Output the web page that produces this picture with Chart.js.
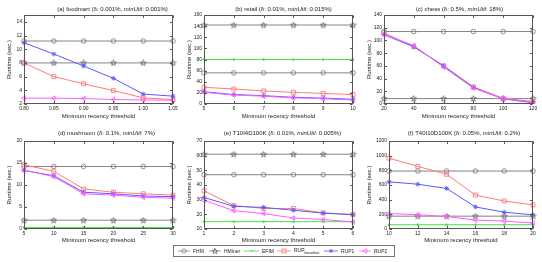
<!DOCTYPE html>
<html>
<head>
<meta charset="utf-8">
<script src="https://cdn.jsdelivr.net/npm/chart.js@4.4.1/dist/chart.umd.min.js"></script>
<style>
  body { margin: 0; background: #fff; width: 542px; height: 262px; overflow: hidden; position: relative;
         font-family: 'Liberation Sans', Arial, sans-serif; }
  canvas { position: absolute; }
  #legend { position: absolute; left: 173px; top: 245px; width: 220px; height: 10px; border: 1px solid #777;
            font-size: 5px; color: #222; }
  #legend .it { position: absolute; top: 0; height: 10px; display: flex; align-items: center; white-space: nowrap; }
  #legend svg { margin-right: 3px; }
  #legend sub { font-size: 4px; vertical-align: -1.5px; }
</style>
</head>
<body>
<canvas id="pa" width="180" height="122" style="left:0;top:0"></canvas>
<canvas id="pb" width="180" height="122" style="left:180px;top:0"></canvas>
<canvas id="pc" width="182" height="122" style="left:360px;top:0"></canvas>
<canvas id="pd" width="180" height="124" style="left:0;top:122px"></canvas>
<canvas id="pe" width="180" height="124" style="left:180px;top:122px"></canvas>
<canvas id="pf" width="182" height="124" style="left:360px;top:122px"></canvas>
<div id="legend"></div>
<script>
// series order: FHM, HMiner, EFIM, RUP_baseline, RUP1, RUP2
const seriesNames = ['FHM', 'HMiner', 'EFIM', 'RUP_baseline', 'RUP1', 'RUP2'];

// (a) foodmart
const xA = ['0.80', '0.85', '0.90', '0.95', '1.00', '1.05'];
const fhmA = [11.2, 11.2, 11.2, 11.2, 11.2, 11.2];
const hminerA = [8, 8, 8, 8, 8, 8];
const efimA = [2.02, 2.02, 2.02, 2.02, 2.02, 2.02];
const rupBaseA = [8, 6, 4.95, 3.95, 2.9, 2.65];
const rup1A = [10.95, 9.3, 7.55, 5.75, 3.45, 3.15];
const rup2A = [2.85, 2.85, 2.8, 2.65, 2.6, 2.55];

// (b) retail
const xB = ['5', '6', '7', '8', '9', '10'];
const fhmB = [56, 56, 56, 56, 56, 56];
const hminerB = [142, 142, 142, 142, 142, 142];
const efimB = [80, 80, 80, 80, 80, 80];
const rupBaseB = [30, 27, 23.5, 21, 19, 17];
const rup1B = [22, 17, 15, 12, 10.5, 8.5];
const rup2B = [21, 16, 14, 11, 9.5, 7];

// (c) chess
const xC = ['20', '40', '60', '80', '100', '120'];
const fhmC = [114, 114, 114, 114, 114, 114];
const hminerC = [8.5, 8.5, 8.5, 8.5, 8.5, 8.5];
const efimC = [0.5, 0.5, 0.5, 0.5, 0.5, 0.5];
const rupBaseC = [112, 90, 60, 27, 9, 4];
const rup1C = [109, 90, 60, 26, 8, 2];
const rup2C = [110, 92, 58, 25, 8.5, 3];

// (d) mushroom
const xD = ['5', '10', '15', '20', '25', '30'];
const fhmD = [14.2, 14.2, 14.2, 14.2, 14.2, 14.2];
const hminerD = [2, 2, 2, 2, 2, 2];
const efimD = [0.35, 0.35, 0.35, 0.35, 0.35, 0.35];
const rupBaseD = [14.6, 13.1, 9.1, 8.35, 8.0, 7.7];
const rup1D = [13.3, 12.1, 8.35, 8.0, 7.5, 7.35];
const rup2D = [13.4, 11.9, 8.0, 7.7, 7.2, 7.0];

// (e) T10I4D100K
const xE = ['1', '2', '3', '4', '5', '6'];
const fhmE = [47, 47, 47, 47, 47, 47];
const hminerE = [61, 61, 61, 61, 61, 61];
const efimE = [15, 15, 15, 15, 15, 15];
const rupBaseE = [36, 26, 24, 24, 21, 20];
const rup1E = [31.5, 25.5, 24.7, 22.8, 20.8, 19.7];
const rup2E = [29.5, 22.5, 20.5, 17.5, 16.5, 14.8];

// (f) T40I10D100K
const xF = ['10', '12', '14', '16', '18', '20'];
const fhmF = [790, 790, 790, 790, 790, 790];
const hminerF = [175, 175, 175, 175, 175, 175];
const efimF = [58, 58, 58, 58, 58, 58];
const rupBaseF = [966, 854, 746, 463, 382, 328];
const rup1F = [643, 611, 553, 301, 229, 193];
const rup2F = [211, 195, 171, 121, 108, 81];

// y axis ranges [min, max, step]
const yRanges = [[2, 15, 2], [0, 160, 20], [0, 140, 20], [0, 20, 5], [10, 70, 10], [0, 1200, 200]];

const panelTitles = [
  '(a) foodmart (δ: 0.001%, minUtil: 0.001%)',
  '(b) retail (δ: 0.01%, minUtil: 0.015%)',
  '(c) chess (δ: 0.5%, minUtil: 18%)',
  '(d) mushroom (δ: 0.1%, minUtil: 7%)',
  '(e) T10I4D100K (δ: 0.01%, minUtil: 0.005%)',
  '(f) T40I10D100K (δ: 0.05%, minUtil: 0.2%)'
];

const FONT = "'Liberation Sans', Arial, sans-serif";
Chart.defaults.font.family = FONT;
Chart.defaults.color = '#222';

function pentagram(color) {
  const c = document.createElement('canvas');
  c.width = c.height = 7;
  const g = c.getContext('2d');
  g.strokeStyle = color;
  g.lineWidth = 0.8;
  g.beginPath();
  for (let k = 0; k < 10; k++) {
    const r = k % 2 ? 1.2 : 3, a = -Math.PI / 2 + k * Math.PI / 5;
    const px = 3.5 + r * Math.cos(a), py = 3.7 + r * Math.sin(a);
    k ? g.lineTo(px, py) : g.moveTo(px, py);
  }
  g.closePath();
  g.stroke();
  return c;
}

const styles = [
  { color: '#858585', point: 'circle', r: 2.3, fill: 'rgba(0,0,0,0)' },
  { color: '#858585', point: pentagram('#555'), r: 3, fill: 'rgba(0,0,0,0)' },
  { color: '#44e044', point: 'circle', r: 0.9, fill: '#44e044' },
  { color: '#ff7b7b', point: 'rect', r: 2.8, fill: 'rgba(0,0,0,0)' },
  { color: '#5a5aff', point: 'star', r: 2.4, fill: '#5a5aff' },
  { color: '#ff5cff', point: 'triangle', r: 2.6, fill: 'rgba(0,0,0,0)', rot: -90 }
];

// box with inward ticks, MATLAB style
const boxPlugin = {
  id: 'box',
  afterDraw(chart) {
    const { ctx, chartArea: a, scales: { x, y } } = chart;
    const L = Math.round(a.left) + 0.5, R = Math.round(a.right) - 0.5;
    const T = Math.round(a.top) + 0.5, B = Math.round(a.bottom) - 0.5;
    ctx.save();
    ctx.strokeStyle = '#555';
    ctx.lineWidth = 1;
    ctx.strokeRect(L, T, R - L, B - T);
    ctx.beginPath();
    x.ticks.forEach((t, i) => {
      const px = Math.round(x.getPixelForTick(i)) + 0.5;
      ctx.moveTo(px, B); ctx.lineTo(px, B - 2.5);
      ctx.moveTo(px, T); ctx.lineTo(px, T + 2.5);
    });
    y.ticks.forEach((t, i) => {
      const py = Math.round(y.getPixelForTick(i)) + 0.5;
      ctx.moveTo(L, py); ctx.lineTo(L + 2.5, py);
      ctx.moveTo(R, py); ctx.lineTo(R - 2.5, py);
    });
    ctx.stroke();
    ctx.restore();
  }
};

// title with italic minUtil
const titlePlugin = {
  id: 'ptitle',
  afterDraw(chart, args, o) {
    const { ctx, chartArea: a } = chart;
    const [head, tail] = o.text.split('minUtil');
    const parts = [[head, 'normal'], ['minUtil', 'italic'], [tail, 'normal']];
    ctx.save();
    ctx.fillStyle = '#222';
    ctx.textBaseline = 'middle';
    let w = 0;
    parts.forEach(p => { ctx.font = p[1] + ' 6px ' + FONT; w += ctx.measureText(p[0]).width; });
    let cx = (a.left + a.right) / 2 + o.dx - w / 2;
    parts.forEach(p => {
      ctx.font = p[1] + ' 6px ' + FONT;
      ctx.fillText(p[0], cx, o.y);
      cx += ctx.measureText(p[0]).width;
    });
    ctx.restore();
  }
};

const panels = [
  { id: 'pa', w: 180, h: 122, l: 24, t: 15, r: 173, b: 104, ty: 9, dx: 14, xp: 1.7 },
  { id: 'pb', w: 180, h: 122, l: 24, t: 15, r: 173, b: 104, ty: 9, dx: 5, xp: 1.7 },
  { id: 'pc', w: 182, h: 122, l: 24, t: 15, r: 173, b: 104, ty: 9, dx: 1, xp: 1.7 },
  { id: 'pd', w: 180, h: 124, l: 24, t: 19, r: 173, b: 107, ty: 11.3, dx: 8, xp: 1.9 },
  { id: 'pe', w: 180, h: 124, l: 24, t: 19, r: 173, b: 107, ty: 11.3, dx: 4, xp: 1.9 },
  { id: 'pf', w: 182, h: 124, l: 29, t: 19, r: 173, b: 107, ty: 11.3, dx: 3, xp: 1.9 }
];

const panelData = [
  [xA, [fhmA, hminerA, efimA, rupBaseA, rup1A, rup2A]],
  [xB, [fhmB, hminerB, efimB, rupBaseB, rup1B, rup2B]],
  [xC, [fhmC, hminerC, efimC, rupBaseC, rup1C, rup2C]],
  [xD, [fhmD, hminerD, efimD, rupBaseD, rup1D, rup2D]],
  [xE, [fhmE, hminerE, efimE, rupBaseE, rup1E, rup2E]],
  [xF, [fhmF, hminerF, efimF, rupBaseF, rup1F, rup2F]]
];

panels.forEach((p, k) => {
  const [labels, series] = panelData[k];
  const [ymin, ymax, ystep] = yRanges[k];
  const datasets = series.map((vals, i) => ({
    label: seriesNames[i],
    data: vals,
    borderColor: styles[i].color,
    backgroundColor: styles[i].fill,
    borderWidth: 1,
    pointStyle: styles[i].point,
    pointRadius: styles[i].r,
    pointRotation: styles[i].rot || 0,
    pointBorderColor: i === 1 ? '#555' : styles[i].color,
    pointBorderWidth: 0.9,
    pointBackgroundColor: styles[i].fill,
    tension: 0,
    order: 6 - i
  }));
  new Chart(document.getElementById(p.id), {
    type: 'line',
    data: { labels, datasets },
    plugins: [boxPlugin, titlePlugin],
    options: {
      responsive: false,
      animation: false,
      layout: { padding: { left: 0, right: p.w - p.r, top: p.t, bottom: 0 } },
      plugins: {
        legend: { display: false },
        tooltip: { enabled: false },
        ptitle: { text: panelTitles[k], dx: p.dx, y: p.ty }
      },
      scales: {
        x: {
          offset: false,
          grid: { display: false, drawTicks: false },
          border: { display: false },
          ticks: { padding: 1.5, autoSkip: false, maxRotation: 0, font: { size: 5 } },
          title: { display: true, text: 'Minimum recency threshold', font: { size: 6 }, padding: { top: 0, bottom: p.xp } },
          afterFit(s) { s.height = p.h - p.b; }
        },
        y: {
          min: ymin, max: ymax,
          grid: { display: false, drawTicks: false },
          border: { display: false },
          ticks: { stepSize: ystep, includeBounds: false, padding: 2, font: { size: 5 }, callback: v => String(v) },
          title: { display: true, text: 'Runtime (sec.)', font: { size: 6 }, padding: { top: 5.9, bottom: 0 } },
          afterFit(s) { s.width = p.l; }
        }
      }
    }
  });
});

// legend
const legendLeft = [4, 35, 70, 103, 150, 185];
const legendLine = [12, 12, 15, 14, 14, 12];
function markerSvg(i, len) {
  const s = styles[i], c = s.color, m = len / 2;
  let mk = '';
  if (i === 0) mk = `<circle cx="${m}" cy="4" r="2.2" fill="none" stroke="${c}" stroke-width="0.8"/>`;
  if (i === 1) {
    let pts = [];
    for (let k = 0; k < 10; k++) {
      const r = k % 2 ? 1.2 : 3, a = -Math.PI / 2 + k * Math.PI / 5;
      pts.push((m + r * Math.cos(a)).toFixed(2) + ',' + (4.3 + r * Math.sin(a)).toFixed(2));
    }
    mk = `<polygon points="${pts.join(' ')}" fill="none" stroke="#555" stroke-width="0.7"/>`;
  }
  if (i === 2) mk = `<circle cx="${m}" cy="4" r="0.9" fill="${c}"/>`;
  if (i === 3) mk = `<rect x="${m - 2}" y="2" width="4" height="4" fill="none" stroke="${c}" stroke-width="0.8"/>`;
  if (i === 4) mk = `<path d="M${m - 2},4H${m + 2}M${m},2V6M${m - 1.5},2.5L${m + 1.5},5.5M${m - 1.5},5.5L${m + 1.5},2.5" stroke="${c}" stroke-width="0.8"/>`;
  if (i === 5) mk = `<polygon points="${m - 2.2},4 ${m + 1.8},1.8 ${m + 1.8},6.2" fill="none" stroke="${c}" stroke-width="0.8"/>`;
  return `<svg width="${len}" height="8" viewBox="0 0 ${len} 8"><line x1="0" y1="4" x2="${len}" y2="4" stroke="${c}" stroke-width="0.8"/>${mk}</svg>`;
}
const legend = document.getElementById('legend');
seriesNames.forEach((name, i) => {
  const el = document.createElement('span');
  el.className = 'it';
  el.style.left = legendLeft[i] + 'px';
  const txt = name === 'RUP_baseline' ? 'RUP<sub>baseline</sub>' : name;
  el.innerHTML = markerSvg(i, legendLine[i]) + '<span>' + txt + '</span>';
  legend.appendChild(el);
});
</script>
</body>
</html>
